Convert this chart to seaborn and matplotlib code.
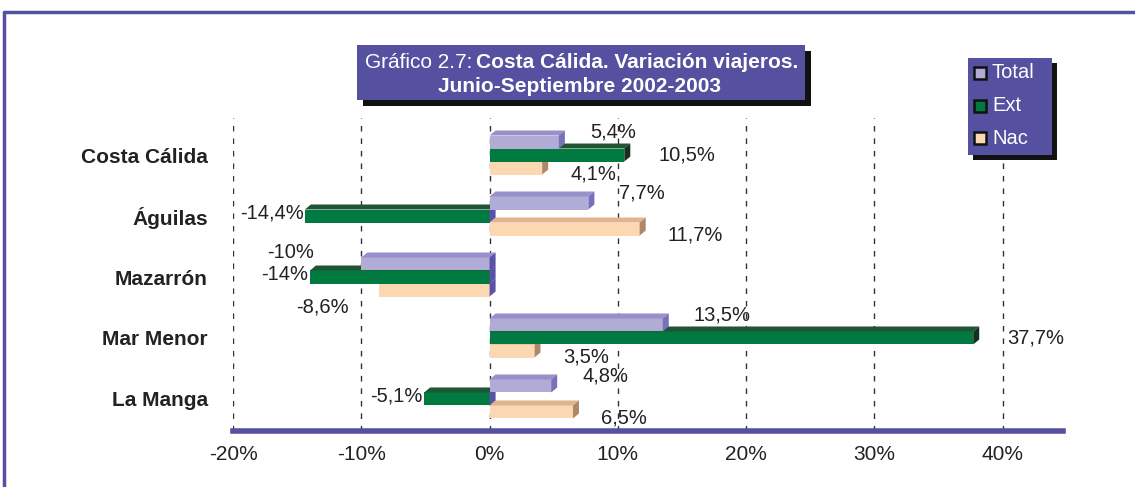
import numpy as np
import pandas as pd
import seaborn as sns
from matplotlib import pyplot as plt
from matplotlib.patches import Polygon, Rectangle
from matplotlib.lines import Line2D

zonas = ['Costa Cálida', 'Águilas', 'Mazarrón', 'Mar Menor', 'La Manga']
series = ['Total', 'Ext', 'Nac']
total = [5.4, 7.7, -10, 13.5, 4.8]
ext = [10.5, -14.4, -14, 37.7, -5.1]
nac = [4.1, 11.7, -8.6, 3.5, 6.5]
ticks = [-20, -10, 0, 10, 20, 30, 40]

df = pd.DataFrame({
    'zona': zonas * 3,
    'serie': np.repeat(series, len(zonas)),
    'valor': total + ext + nac,
})

# colores: cara frontal, cara superior, lateral
face = {'Total': '#b0acd6', 'Ext': '#007a40', 'Nac': '#fbd8b2'}
top = {'Total': '#9890c8', 'Ext': '#1f5535', 'Nac': '#e0b48c'}
side = {'Total': '#7870b8', 'Ext': '#15301f', 'Nac': '#ae8868'}
side_neg = '#5a52a8'
purple = '#5550a0'
txt = '#222222'

sns.set_style('white')
plt.rcParams['font.family'] = ['Liberation Sans', 'DejaVu Sans']

W, H = 1135, 487
fig = plt.figure(figsize=(W / 100, H / 100), dpi=100)


def fx(px):
    return px / W


def fy(py):
    return 1 - py / H


ax = fig.add_axes([fx(233), fy(431), fx(1063) - fx(233), fy(118) - fy(431)])

sns.barplot(data=df, x='valor', y='zona', hue='serie', hue_order=series,
            order=zonas, orient='h', palette=face, saturation=1,
            width=0.64, legend=False, ax=ax)

ax.set_xlim(-20, 44.7)
ax.set_ylim(4.525, -0.607)

dx, dy = 0.47, 0.082
zorders = {'Total': 4, 'Ext': 3, 'Nac': 2}

# desplazamiento de las etiquetas (puntos) segun serie y signo
off_pos = {'Total': (18, 7), 'Ext': (20, 0), 'Nac': (16, -4)}
off_neg = {'Total': (-34, 8), 'Ext': (-1, 2), 'Nac': (-22, -12)}

for cont, s in zip(ax.containers, series):
    z = zorders[s]
    for p in cont.patches:
        p.set_zorder(z)
        p.set_edgecolor('none')
        x, w = p.get_x(), p.get_width()
        y, h = p.get_y(), p.get_height()
        x0, x1 = min(x, x + w), max(x, x + w)
        yt, yb = min(y, y + h), max(y, y + h)
        ax.add_patch(Polygon([(x0, yt), (x1, yt), (x1 + dx, yt - dy), (x0 + dx, yt - dy)],
                             closed=True, facecolor=top[s], edgecolor='none', zorder=z))
        sc = side[s] if x + w > 0 else side_neg
        ax.add_patch(Polygon([(x1, yt), (x1 + dx, yt - dy), (x1 + dx, yb - dy), (x1, yb)],
                             closed=True, facecolor=sc, edgecolor='none', zorder=z))
        v = x + w
        lab = f'{v:g}'.replace('.', ',') + '%'
        yc = (yt + yb) / 2
        if v >= 0:
            ox, oy = off_pos[s]
            ax.annotate(lab, xy=(x1 + dx, yc), xytext=(ox, oy), textcoords='offset points',
                        ha='left', va='center', fontsize=14.5, color=txt, zorder=6)
        else:
            ox, oy = off_neg[s]
            ax.annotate(lab, xy=(v, yc), xytext=(ox, oy), textcoords='offset points',
                        ha='right', va='center', fontsize=14.5, color=txt, zorder=6)

ax.set_xticks(ticks)
ax.set_xticklabels([f'{t}%' for t in ticks])
ax.set_xlabel('')
ax.set_ylabel('')
ax.set_axisbelow(True)
ax.xaxis.grid(True, color='#333333', linestyle=(0, (4, 5)), linewidth=1)
ax.yaxis.grid(False)
for sp in ['top', 'right', 'left']:
    ax.spines[sp].set_visible(False)
ax.spines['bottom'].set_color(purple)
ax.spines['bottom'].set_linewidth(4)
ax.tick_params(axis='x', length=4, width=2, color=purple, pad=6,
               labelsize=15, labelcolor=txt, direction='out')
ax.tick_params(axis='y', length=0, pad=18, labelsize=15, labelcolor=txt)
for t in ax.get_yticklabels():
    t.set_fontweight('bold')

# marco exterior
fig.add_artist(Line2D([fx(4), 1], [fy(12), fy(12)], color=purple, lw=2.5))
fig.add_artist(Line2D([fx(4), fx(4)], [fy(12), 0], color=purple, lw=2.5))

# titulo
fig.add_artist(Rectangle((fx(363), fy(106)), fx(448), fy(45) - fy(100),
                         facecolor='#111111', edgecolor='none',
                         transform=fig.transFigure))
fig.add_artist(Rectangle((fx(357), fy(100)), fx(448), fy(45) - fy(100),
                         facecolor=purple, edgecolor='none',
                         transform=fig.transFigure))
fig.text(fx(472), fy(62), 'Gráfico 2.7:', ha='right', va='center',
         fontsize=15, color='white')
fig.text(fx(476), fy(62), 'Costa Cálida. Variación viajeros.', ha='left',
         va='center', fontsize=15, color='white', fontweight='bold')
fig.text(fx(580), fy(86), 'Junio-Septiembre 2002-2003', ha='center',
         va='center', fontsize=15, color='white', fontweight='bold')

# leyenda
fig.add_artist(Rectangle((fx(973), fy(160)), fx(84), fy(58) - fy(155),
                         facecolor='#111111', edgecolor='none',
                         transform=fig.transFigure))
fig.add_artist(Rectangle((fx(968), fy(155)), fx(84), fy(58) - fy(155),
                         facecolor=purple, edgecolor='none',
                         transform=fig.transFigure))
for i, s in enumerate(series):
    yc = 73 + i * 32.5
    fig.add_artist(Rectangle((fx(974), fy(yc + 6)), fx(12), fy(yc - 6) - fy(yc + 6),
                             facecolor=face[s], edgecolor='#111111', lw=1.8,
                             transform=fig.transFigure))
    fig.text(fx(992), fy(yc), s, ha='left', va='center', fontsize=14.5,
             color='white')

fig.savefig('out.png', dpi=100)
